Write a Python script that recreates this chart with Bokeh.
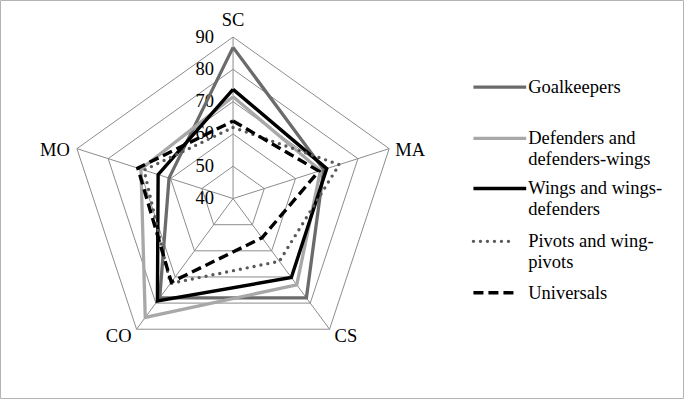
import numpy as np
from bokeh.plotting import figure
from bokeh.models import Range1d
from bokeh.embed import file_html
from bokeh.resources import INLINE
from bokeh.core.properties import value

# ---------------- data ----------------
categories = ["SC", "MA", "CS", "CO", "MO"]
tick_values = [40, 50, 60, 70, 80, 90]

goalkeepers = [86.8, 69.0, 78.0, 78.0, 60.5]
defenders = [71.5, 68.0, 73.0, 85.5, 69.5]
wings = [73.8, 70.0, 70.2, 79.2, 64.0]
pivots = [62.0, 74.0, 64.0, 72.5, 68.5]
universals = [64.0, 67.5, 55.0, 72.0, 70.5]

series_names = [
    ["Goalkeepers"],
    ["Defenders and", "defenders-wings"],
    ["Wings and wings-", "defenders"],
    ["Pivots and wing-", "pivots"],
    ["Universals"],
]
series_values = [goalkeepers, defenders, wings, pivots, universals]
series_colors = ["#6b6b6b", "#a8a8a8", "#000000", "#595959", "#000000"]
series_dash = ["solid", "solid", "solid", "0 7", "10 5"]
series_cap = ["butt", "butt", "butt", "round", "butt"]
series_width = [3.3, 3.3, 3.4, 3.4, 3.4]

# ---------------- geometry ----------------
R0, RMAX = tick_values[0], tick_values[-1]
angles = np.deg2rad(90 - 72 * np.arange(len(categories)))
S = 3.36                 # reference px per unit
REF_W, REF_H = 700, 415  # reference canvas
CX, CY = 238, 206        # radar centre in reference px
W, H = 684, 399          # figure size
FONT = value("Liberation Serif")
FS = "18.5px"


def to_xy(vals):
    r = np.asarray(vals, dtype=float) - R0
    x = r * np.cos(angles)
    y = r * np.sin(angles)
    return list(x) + [x[0]], list(y) + [y[0]]


def px(X, Y):
    # reference-image pixel -> data coords
    return (X - CX) / S, (CY - Y) / S


p = figure(width=W, height=H, output_backend="svg", toolbar_location=None,
           x_range=Range1d(-CX / S, (REF_W - CX) / S),
           y_range=Range1d(-(REF_H - CY) / S, CY / S),
           min_border=0)
p.axis.visible = False
p.grid.visible = False
p.outline_line_color = "#b4b4b4"
p.outline_line_width = 1
p.background_fill_color = "white"
p.border_fill_color = "white"

grid_color = "#8c8c8c"
# rings
ring_xs, ring_ys = [], []
for t in tick_values[1:]:
    x, y = to_xy([t] * len(categories))
    ring_xs.append(x)
    ring_ys.append(y)
p.multi_line(ring_xs, ring_ys, line_color=grid_color, line_width=1)
# spokes
ex, ey = to_xy([RMAX] * len(categories))
p.segment(x0=[0] * 5, y0=[0] * 5, x1=ex[:-1], y1=ey[:-1],
          line_color=grid_color, line_width=1)

# tick labels along SC axis
p.text(x=[0] * len(tick_values), y=[t - R0 for t in tick_values],
       text=[str(t) for t in tick_values], text_font=FONT,
       text_font_size=FS, text_align="right", text_baseline="middle",
       x_offset=-19, y_offset=-1, text_color="#000000")

# category labels
lab_align = ["center", "left", "left", "right", "right"]
lab_dx = [0, 6, 5, -5, -7]
lab_dy = [-17, 1, 7, 7, 1]
for i, c in enumerate(categories):
    p.text(x=[ex[i]], y=[ey[i]], text=[c], text_font=FONT,
           text_font_size=FS, text_align=lab_align[i],
           text_baseline="middle", x_offset=lab_dx[i], y_offset=lab_dy[i],
           text_color="#000000")

# series
for vals, col, dash, cap, lw in zip(series_values, series_colors,
                                    series_dash, series_cap, series_width):
    x, y = to_xy(vals)
    p.line(x, y, line_color=col, line_width=lw, line_dash=dash,
           line_cap=cap, line_join="miter")

# legend (manual)
leg_y = [90, 143.3, 195.5, 250.5, 304]
leg_len = [54, 54, 54, 42, 42]
for names, col, dash, cap, lw, yy, ln in zip(series_names, series_colors,
                                            series_dash, series_cap,
                                            series_width, leg_y, leg_len):
    x0, y0 = px(484, yy)
    x1, _ = px(484 + ln, yy)
    p.line([x0, x1], [y0, y0], line_color=col, line_width=lw,
           line_dash=dash, line_cap=cap)
    for k, nm in enumerate(names):
        tx, ty = px(540, yy + k * 21.7)
        p.text(x=[tx], y=[ty], text=[nm], text_font=FONT,
               text_font_size=FS, text_align="left",
               text_baseline="middle", text_color="#000000")

open("out.html", "w").write(file_html(p, INLINE))
